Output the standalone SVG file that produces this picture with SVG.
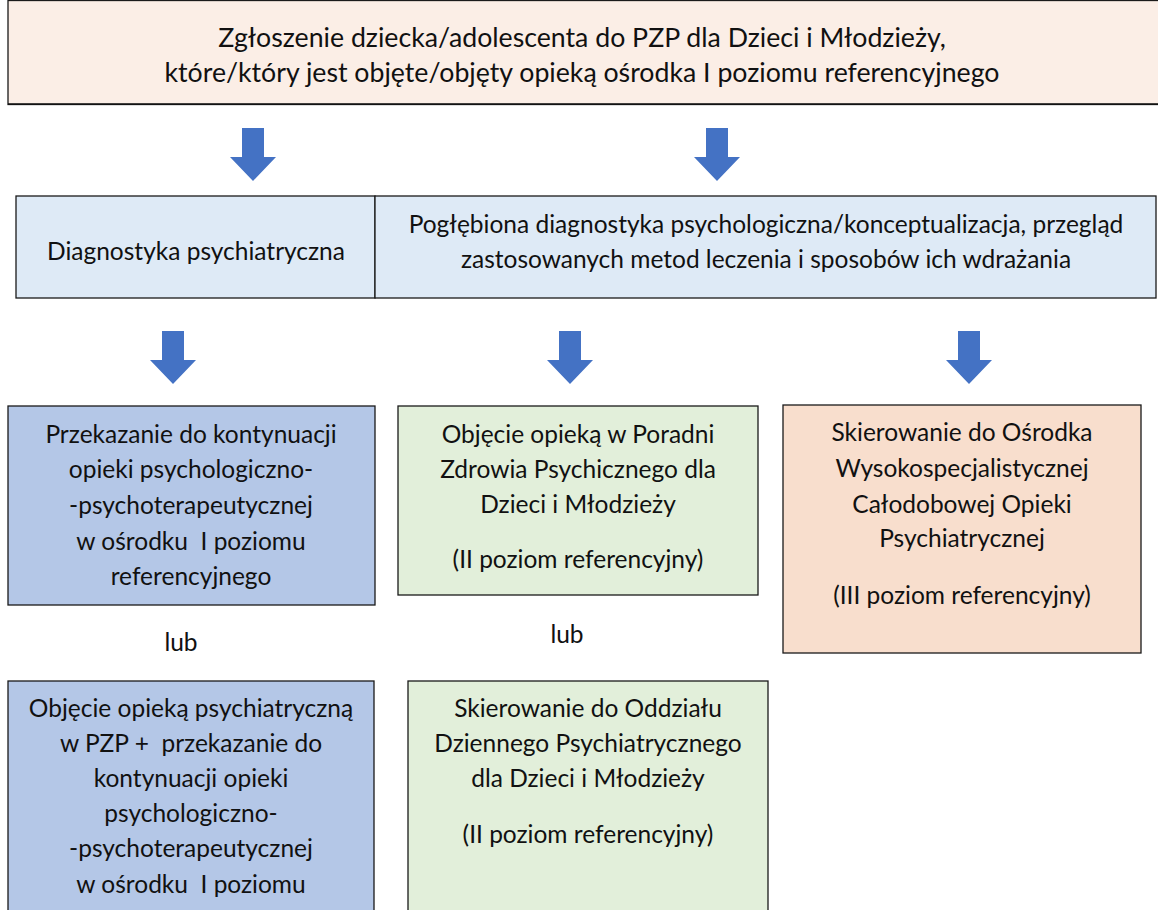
<svg xmlns="http://www.w3.org/2000/svg" width="1158" height="910" viewBox="0 0 1158 910">
<style>
.box{stroke:#1a1a1a;stroke-width:1.3}
.t{font-family:Lato,"Liberation Sans",sans-serif;font-size:24.5px;fill:#111;text-anchor:middle;white-space:pre}
.big{font-size:26.7px}
.arr{fill:#4472C4}
</style>
<defs>
<path id="arrow" d="M-11 0 H11 V29 H23 L0 53 L-23 29 H-11 Z"/>
</defs>
<rect width="1158" height="910" fill="#fff"/>
<g id="connectors">
<use href="#arrow" class="arr" x="253" y="128"/>
<use href="#arrow" class="arr" x="717" y="128"/>
<use href="#arrow" class="arr" x="173" y="331"/>
<use href="#arrow" class="arr" x="570" y="331"/>
<use href="#arrow" class="arr" x="969" y="331"/>
</g>
<g id="n-top">
<rect class="box" x="8" y="0.5" width="1160" height="104" fill="#FBEEE6" stroke="#555"/>
<line x1="8" y1="104" x2="1158" y2="104" stroke="#111" stroke-width="1.5"/>
<text class="t big" x="582" y="47">Zgłoszenie dziecka/adolescenta do PZP dla Dzieci i Młodzieży,</text>
<text class="t big" x="582" y="82">które/który jest objęte/objęty opieką ośrodka I poziomu referencyjnego</text>
</g>
<g id="n-diag-psych">
<rect class="box" x="16" y="196" width="359" height="102" fill="#DEEAF6"/>
<text class="t" x="196" y="260">Diagnostyka psychiatryczna</text>
</g>
<g id="n-diag-psycho">
<rect class="box" x="375" y="196" width="781" height="102" fill="#DEEAF6"/>
<text class="t" x="766" y="233">Pogłębiona diagnostyka psychologiczna/konceptualizacja, przegląd</text>
<text class="t" x="766" y="268">zastosowanych metod leczenia i sposobów ich wdrażania</text>
</g>
<g id="n-przekazanie">
<rect class="box" x="8" y="406" width="367" height="199" fill="#B4C7E7"/>
<text class="t" x="191" y="443">Przekazanie do kontynuacji</text>
<text class="t" x="191" y="478">opieki psychologiczno-</text>
<text class="t" x="191" y="514">-psychoterapeutycznej</text>
<text class="t" x="191" y="550">w ośrodku  I poziomu</text>
<text class="t" x="191" y="585">referencyjnego</text>
</g>
<g id="n-poradnia">
<rect class="box" x="398" y="406" width="360" height="189" fill="#E2EFDA"/>
<text class="t" x="578" y="443">Objęcie opieką w Poradni</text>
<text class="t" x="578" y="478">Zdrowia Psychicznego dla</text>
<text class="t" x="578" y="513">Dzieci i Młodzieży</text>
<text class="t" x="578" y="568">(II poziom referencyjny)</text>
</g>
<g id="n-osrodek">
<rect class="box" x="783" y="405" width="358" height="248" fill="#F8DECD"/>
<text class="t" x="962" y="441">Skierowanie do Ośrodka</text>
<text class="t" x="962" y="477">Wysokospecjalistycznej</text>
<text class="t" x="962" y="513">Całodobowej Opieki</text>
<text class="t" x="962" y="547">Psychiatrycznej</text>
<text class="t" x="962" y="604">(III poziom referencyjny)</text>
</g>
<g id="n-lub1">
<text class="t" x="181" y="651">lub</text>
</g>
<g id="n-lub2">
<text class="t" x="567" y="643">lub</text>
</g>
<g id="n-objecie-psych">
<rect class="box" x="8" y="681" width="366" height="240" fill="#B4C7E7"/>
<text class="t" x="191" y="717">Objęcie opieką psychiatryczną</text>
<text class="t" x="191" y="752">w PZP +  przekazanie do</text>
<text class="t" x="191" y="787">kontynuacji opieki</text>
<text class="t" x="191" y="822">psychologiczno-</text>
<text class="t" x="191" y="857">-psychoterapeutycznej</text>
<text class="t" x="191" y="893">w ośrodku  I poziomu</text>
</g>
<g id="n-oddzial">
<rect class="box" x="408" y="681" width="360" height="240" fill="#E2EFDA"/>
<text class="t" x="588" y="717">Skierowanie do Oddziału</text>
<text class="t" x="588" y="752">Dziennego Psychiatrycznego</text>
<text class="t" x="588" y="787">dla Dzieci i Młodzieży</text>
<text class="t" x="588" y="843">(II poziom referencyjny)</text>
</g>
</svg>
